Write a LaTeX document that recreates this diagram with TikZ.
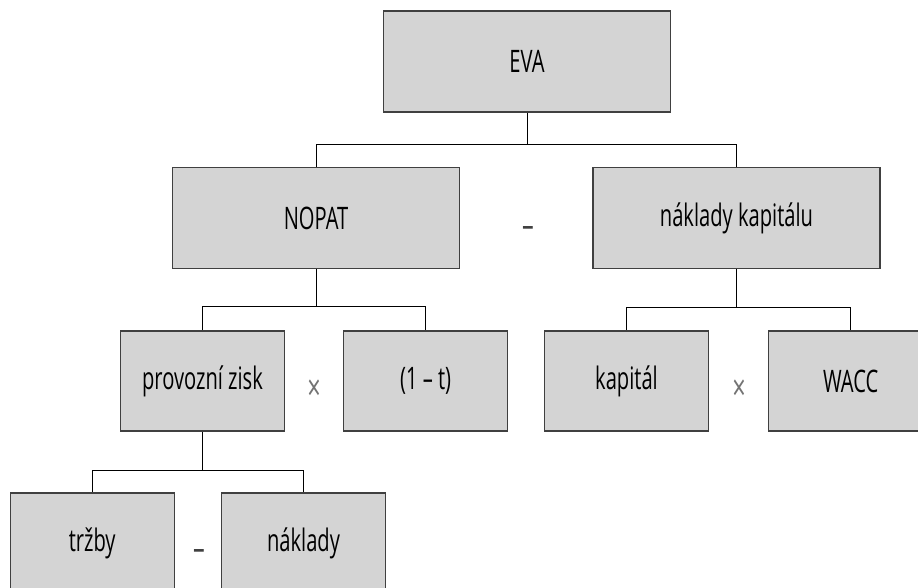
\documentclass[tikz,border=0pt]{standalone}
\usepackage{fontspec}
\setmainfont[FakeStretch=0.65]{Open Sans}
\begin{document}
\begin{tikzpicture}[x=1pt,y=-1pt,line width=0.8pt,
  box/.style={draw=black!75, line width=1.2pt, fill=black!17, minimum width=287pt, minimum height=101pt, inner sep=0pt, font=\fontsize{31}{36}\selectfont},
  small/.style={box, minimum width=164pt, minimum height=100pt},
  op/.style={anchor=base, inner sep=0pt, font=\fontsize{36}{42}\selectfont, text=black!75}]
\useasboundingbox (0,0) rectangle (918,588);
\node[box] (eva) at (527,61.5) {EVA};
\node[box] (nopat) at (316,218) {NOPAT};
\node[box] (nk) at (736.5,218) {náklady kapitálu};
\node[small] (pz) at (202.5,381) {provozní zisk};
\node[small] (jt) at (425.6,381) {(1 – t)};
\node[small] (kap) at (626.5,381) {kapitál};
\node[small] (wacc) at (850.7,381) {WACC};
\node[small] (trz) at (92.2,543) {tržby};
\node[small] (nakl) at (303.5,543) {náklady};

\node[op] (m1) at (528,237) {–};
\node[op, text=black!55] (x1) at (314,400) {×};
\node[op, text=black!55] (x2) at (739,400) {×};
\node[op] (m2) at (199,560) {–};

\draw (eva.south) -- ++(0,32) -| (nopat.north);
\draw (eva.south) ++(0,32) -| (nk.north);
\draw (nopat.south) -- ++(0,37) -| (pz.north);
\draw (nopat.south) ++(0,37) -| (jt.north);
\draw (nk.south) -- ++(0,38) -| (kap.north);
\draw (nk.south) ++(0,38) -| (wacc.north);
\draw (pz.south) -- ++(0,39) -| (trz.north);
\draw (pz.south) ++(0,39) -| (nakl.north);
\end{tikzpicture}
\end{document}
